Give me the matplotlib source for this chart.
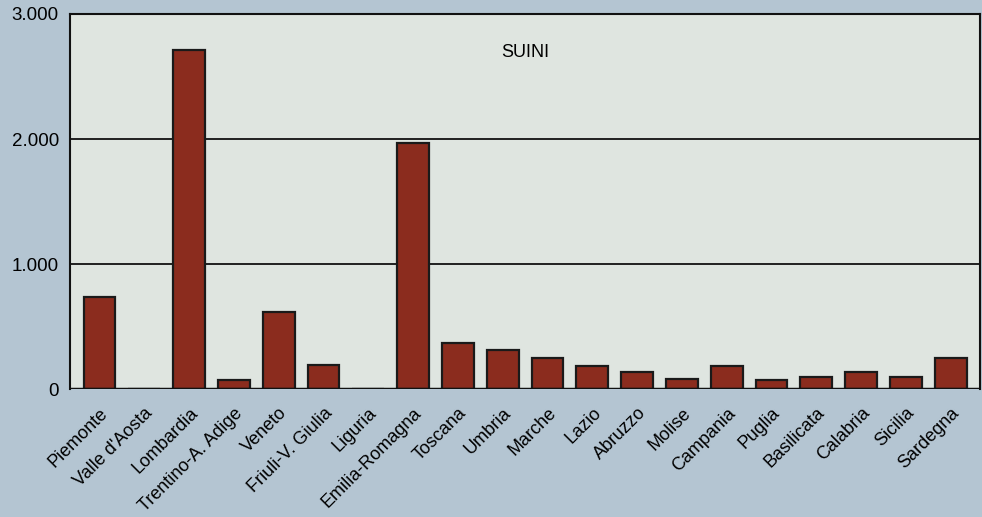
import matplotlib.pyplot as plt
from matplotlib.ticker import FuncFormatter

# Regioni e numero di suini (migliaia di capi)
regioni = ["Piemonte", "Valle d'Aosta", "Lombardia", "Trentino-A. Adige", "Veneto",
           "Friuli-V. Giulia", "Liguria", "Emilia-Romagna", "Toscana", "Umbria",
           "Marche", "Lazio", "Abruzzo", "Molise", "Campania", "Puglia",
           "Basilicata", "Calabria", "Sicilia", "Sardegna"]
suini = [738, 0, 2712, 78, 614, 196, 0, 1972, 374, 316,
         250, 189, 135, 80, 190, 74, 98, 142, 98, 254]
y_ticks = [0, 1000, 2000, 3000]

plt.rcParams['font.family'] = ['Liberation Sans', 'DejaVu Sans']

fig = plt.figure(figsize=(9.82, 5.17), dpi=100)
fig.patch.set_facecolor('#b4c5d2')
ax = fig.add_axes([0.0713, 0.247, 0.927, 0.726])
ax.set_facecolor('#dfe5e0')

x = range(len(regioni))
ax.bar(x, suini, width=0.71, color='#8b2c1e', edgecolor='#1a1a1a', linewidth=1.6, zorder=3)

# griglia orizzontale nera
for v in y_ticks[1:]:
    ax.axhline(v, color='#111111', linewidth=1.3, zorder=2)
ax.axhline(0, color='#111111', linewidth=2.5, zorder=4)

ax.set_xlim(-0.66, len(regioni) - 0.34)
ax.set_ylim(0, 3000)
ax.set_yticks(y_ticks)
ax.yaxis.set_major_formatter(FuncFormatter(lambda v, p: f"{int(v):,}".replace(",", ".")))
ax.tick_params(axis='y', length=0, pad=8, labelsize=13.5)
ax.set_xticks(list(x))
ax.set_xticklabels(regioni, rotation=45, ha='right', rotation_mode='anchor', fontsize=13)
ax.tick_params(axis='x', length=0, pad=11)

for s in ['left', 'right', 'top']:
    ax.spines[s].set_color('#111111')
    ax.spines[s].set_linewidth(1.5)
ax.spines['bottom'].set_visible(False)

ax.text(0.5, 0.896, "SUINI", transform=ax.transAxes, ha='center', va='center', fontsize=13)

fig.savefig('out.png', dpi=100, facecolor=fig.get_facecolor())
